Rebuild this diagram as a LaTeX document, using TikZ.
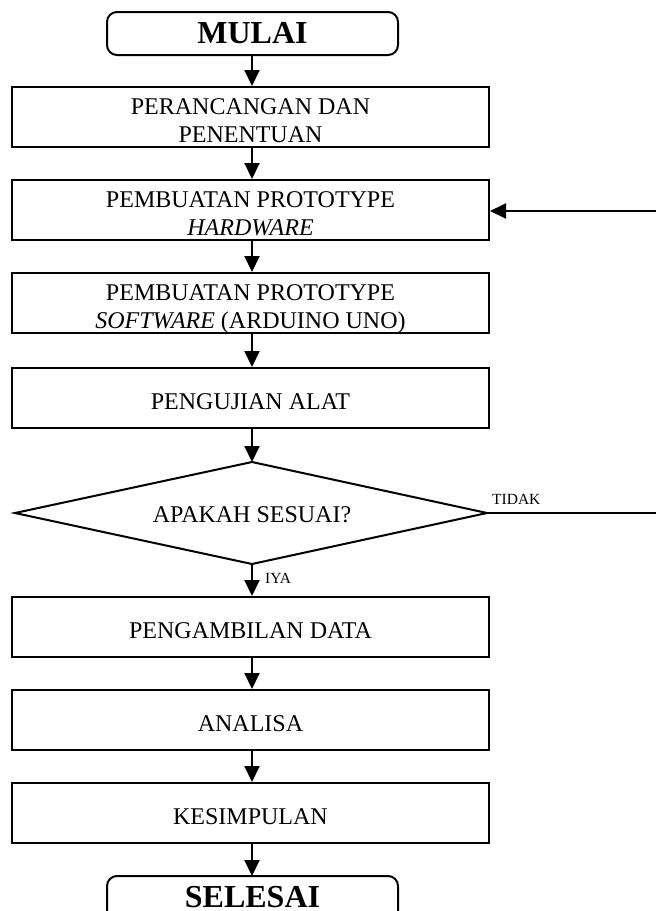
\documentclass[tikz,border=0pt]{standalone}
\usepackage{fontspec}
\setmainfont{Liberation Serif}
\usetikzlibrary{arrows.meta}
\tikzset{
  procbox/.style={draw, line width=2pt, minimum width=477pt, minimum height=60pt, inner sep=0pt, align=center, font=\fontsize{24}{28}\selectfont, text height=23pt, text depth=0pt},
  twoline/.style={text height=50pt, text depth=0pt},
  termbox/.style={draw, line width=2pt, rounded corners=10pt, minimum width=291pt, minimum height=43pt, inner sep=0pt, font=\fontsize{32}{32}\selectfont\bfseries},
  textonly/.style={inner sep=0pt, font=\fontsize{24}{28}\selectfont},
  flow/.style={line width=2pt, -{Triangle[width=15pt,length=16pt]}},
  plain/.style={line width=2pt},
  small/.style={font=\fontsize{15.5}{15.5}\selectfont, inner sep=0pt}
}
\begin{document}
\begin{tikzpicture}[x=1pt,y=-1pt]
\useasboundingbox (0,0) rectangle (656,911);
\clip (0,0) rectangle (656,911);
\node[termbox] (start) at (252.5,33.5) {MULAI};
\node[procbox, twoline] (b1) at (250.5,117) {PERANCANGAN DAN\\PENENTUAN};
\node[procbox, twoline] (b2) at (250.5,210) {PEMBUATAN PROTOTYPE\\\textit{HARDWARE}};
\node[procbox, twoline] (b3) at (250.5,303) {PEMBUATAN PROTOTYPE\\\textit{SOFTWARE} (ARDUINO UNO)};
\node[procbox] (b4) at (250.5,398) {PENGUJIAN ALAT};
% decision diamond
\coordinate (dtop) at (252,462);
\coordinate (dright) at (487,513);
\coordinate (dbot) at (252,564);
\coordinate (dleft) at (15,513);
\draw[plain, line join=miter] (dtop) -- (dright) -- (dbot) -- (dleft) -- cycle;
\node[textonly, anchor=base] (dec) at (252,522) {APAKAH SESUAI?};
\node[procbox] (b5) at (250.5,627) {PENGAMBILAN DATA};
\node[procbox] (b6) at (250.5,720) {ANALISA};
\node[procbox] (b7) at (250.5,813) {KESIMPULAN};
% end terminal (cut at the bottom edge)
\coordinate (endtop) at (252,876);
\draw[plain, rounded corners=10pt] (107,925) -- (107,876) -- (398,876) -- (398,925);
\node[inner sep=0pt, font=\fontsize{32}{32}\selectfont\bfseries, anchor=base] (end) at (252.5,907) {SELESAI};
\coordinate (rt) at (660,513);
\coordinate (rb) at (660,211);
\draw[flow] (start.south -| 252,0) -- (b1.north -| 252,0);
\draw[flow] (b1.south -| 252,0) -- (b2.north -| 252,0);
\draw[flow] (b2.south -| 252,0) -- (b3.north -| 252,0);
\draw[flow] (b3.south -| 252,0) -- (b4.north -| 252,0);
\draw[flow] (b4.south -| 252,0) -- (dtop);
\draw[flow] (dbot) -- (b5.north -| 252,0);
\node[small, anchor=base west] (iya) at (265,583) {IYA};
\draw[flow] (b5.south -| 252,0) -- (b6.north -| 252,0);
\draw[flow] (b6.south -| 252,0) -- (b7.north -| 252,0);
\draw[flow] (b7.south -| 252,0) -- (endtop);
\draw[plain] (dright) -- (rt);
\node[small, anchor=base west] (tidak) at (492,504) {TIDAK};
\draw[flow] (rb) -- (b2.east |- rb);
\end{tikzpicture}
\end{document}
